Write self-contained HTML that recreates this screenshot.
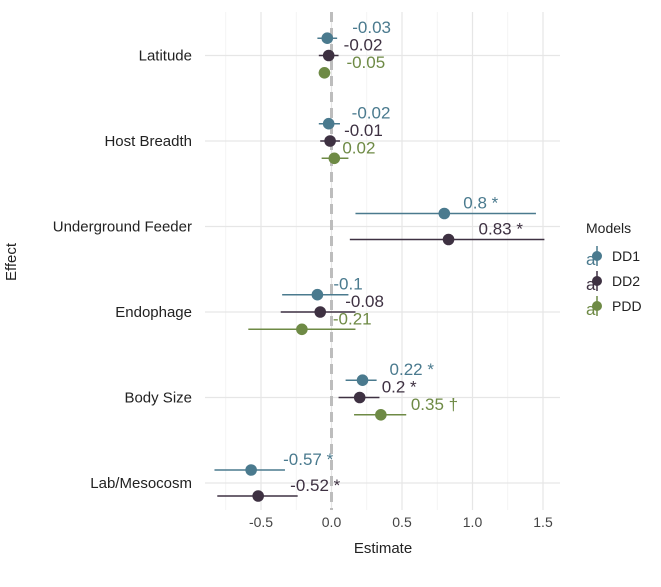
<!DOCTYPE html>
<html><head><meta charset="utf-8"><style>
body{margin:0;background:#fff;}
svg{font-family:"Liberation Sans",Arial,sans-serif;}
</style></head><body>
<svg id="chart" width="661" height="582" viewBox="0 0 661 582" xmlns="http://www.w3.org/2000/svg">
<g id="grid"></g>
<g id="axes"></g>
<g id="marks"></g>
<text transform="translate(16,262) rotate(-90)" text-anchor="middle" font-size="15" fill="#222">Effect</text>
<text x="383" y="553" text-anchor="middle" font-size="15" fill="#222">Estimate</text>
<g>
<text x="586" y="233" font-size="14" fill="#222">Models</text>
<g id="legend-keys"></g>
</g>
</svg>
<script>
const categories = ["Latitude","Host Breadth","Underground Feeder","Endophage","Body Size","Lab/Mesocosm"];
const models = ["DD1","DD2","PDD"];
const rowCat =   [0,0,0, 1,1,1, 2,2, 3,3,3, 4,4,4, 5,5];
const rowModel = [0,1,2, 0,1,2, 0,1, 0,1,2, 0,1,2, 0,1];
const estimates = [-0.03,-0.02,-0.05, -0.02,-0.01,0.02, 0.80,0.83, -0.10,-0.08,-0.21, 0.22,0.20,0.35, -0.57,-0.52];
const lowers = [-0.10,-0.09,-0.09, -0.09,-0.08,-0.07, 0.17,0.13, -0.35,-0.36,-0.59, 0.10,0.05,0.16, -0.83,-0.81];
const uppers = [0.04,0.05,-0.01, 0.06,0.06,0.12, 1.45,1.51, 0.12,0.17,0.17, 0.32,0.34,0.53, -0.33,-0.24];
const labels = ["-0.03","-0.02","-0.05","-0.02","-0.01","0.02","0.8 *","0.83 *","-0.1","-0.08","-0.21","0.22 *","0.2 *","0.35 †","-0.57 *","-0.52 *"];
const labelNudge = [25,15,22, 23,14,8, 19,30, 16,25,31, 27,22,30, 32,32];
const xTicks = [-0.5,0,0.5,1.0,1.5];
const xTickLabels = ["-0.5","0.0","0.5","1.0","1.5"];
const colors = ["#4a7a8e","#3e3142","#6e8a45"];

const NS="http://www.w3.org/2000/svg";
const X0=331.5, XS=141, Y0=55.5, YS=85.5, PL=205, PR=560, PT=12, PB=510;
const xs=v=>X0+v*XS, ys=i=>Y0+i*YS;
function mk(tag,attrs,parent){const e=document.createElementNS(NS,tag);for(const k in attrs)e.setAttribute(k,attrs[k]);parent.appendChild(e);return e;}
const grid=document.getElementById('grid'), axes=document.getElementById('axes'), marks=document.getElementById('marks');
for(let i=0;i<xTicks.length;i++){
  const l=mk('line',{x1:xs(xTicks[i]),x2:xs(xTicks[i]),y1:PT,y2:PB,stroke:'#e6e6e6','stroke-width':1.2},grid);
  
  
  const t=mk('text',{x:xs(xTicks[i]),y:527,'text-anchor':'middle','font-size':14,fill:'#444'},axes);
  t.textContent=xTickLabels[i];
  
  
}
for(let i=0;i<xTicks.length-1;i++){
  const m=(xTicks[i]+xTicks[i+1])/2;
  const l=mk('line',{x1:xs(m),x2:xs(m),y1:PT,y2:PB,stroke:'#f2f2f2','stroke-width':0.8},grid);
  
  
}
const lm=mk('line',{x1:xs(-0.75),x2:xs(-0.75),y1:PT,y2:PB,stroke:'#f2f2f2','stroke-width':0.8},grid);


categories.forEach((c,i)=>{
  const l=mk('line',{x1:PL,x2:PR,y1:ys(i),y2:ys(i),stroke:'#e6e6e6','stroke-width':1.2},grid);
  
  
  const t=mk('text',{x:192,y:ys(i)+5,'text-anchor':'end','font-size':15,fill:'#222'},axes);
  t.textContent=c;
  
  
});
const z=mk('line',{x1:xs(0),x2:xs(0),y1:PT,y2:PB,stroke:'#bdbdbd','stroke-width':3,'stroke-dasharray':'10,6'},grid);



const counts={};rowCat.forEach(c=>counts[c]=(counts[c]||0)+1);
const seen={};
for(let r=0;r<estimates.length;r++){
  const c=rowCat[r], n=counts[c], k=seen[c]||0; seen[c]=k+1;
  const step=n===3?17.3:26;
  const y=ys(c)+(k-(n-1)/2)*step;
  const col=colors[rowModel[r]];
  const g=mk('g',{},marks);
  
  
  const l=mk('line',{x1:xs(lowers[r]),x2:xs(uppers[r]),y1:y,y2:y,stroke:col,'stroke-width':1.5},g);
  
  
  const p=mk('circle',{cx:xs(estimates[r]),cy:y,r:5.8,fill:col},g);
  
  
  const t=mk('text',{x:xs(estimates[r])+labelNudge[r],y:y-5,'font-size':17,fill:col},g);
  t.textContent=labels[r];
  
  
}
const lk=document.getElementById('legend-keys');
models.forEach((m,i)=>{
  const y=256+i*25;
  const g=mk('g',{},lk);
  
  
  const a=mk('text',{x:586,y:y+9,'font-size':17,fill:colors[i]},g);a.textContent='a';
  mk('line',{x1:597,x2:597,y1:y-10,y2:y+10,stroke:colors[i],'stroke-width':1.5},g);
  mk('circle',{cx:597,cy:y,r:5,fill:colors[i]},g);
  const t=mk('text',{x:612,y:y+5,'font-size':14,fill:'#222'},g);t.textContent=m;
});
</script>
</body></html>
